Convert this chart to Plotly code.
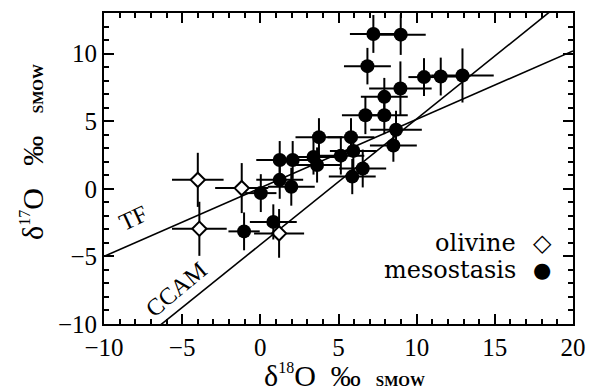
import plotly.graph_objects as go

# ---- data ----
oliv_x = [-4.0, -1.19, -3.9, 1.2]
oliv_y = [0.66, 0.05, -2.96, -3.3]
oliv_ex = [1.65, 1.7, 1.75, 1.6]
oliv_ey = [2.0, 1.85, 2.0, 1.8]

meso_x = [-1.04, 0.83, 0.03, 1.24, 1.98, 1.24, 2.07, 3.4, 3.63, 3.75, 5.15, 5.8, 5.95, 5.88,
          6.55, 6.72, 7.93, 7.93, 8.96, 6.85, 7.23, 8.98, 10.47, 11.54, 12.93, 8.68, 8.51]
meso_y = [-3.15, -2.45, -0.32, 0.66, 0.15, 2.13, 2.13, 2.35, 1.76, 3.82, 2.45, 3.82, 2.8, 0.9,
          1.5, 5.44, 5.44, 6.8, 7.42, 9.07, 11.45, 11.4, 8.26, 8.3, 8.38, 4.37, 3.2]
meso_ex = [1.0, 1.5, 1.0, 1.5, 1.5, 1.5, 1.5, 1.5, 1.5, 1.5, 1.5, 1.5, 1.5, 1.5,
           1.5, 1.5, 1.5, 1.5, 2.0, 1.5, 1.5, 1.6, 1.0, 1.0, 2.0, 1.65, 1.5]
meso_ey = [1.4, 1.3, 1.4, 1.4, 1.4, 1.4, 1.4, 1.3, 1.3, 1.4, 1.4, 1.4, 1.4, 1.3,
           1.4, 1.4, 1.4, 1.4, 2.0, 1.35, 1.4, 1.5, 1.4, 1.4, 2.0, 1.4, 1.2]

tf_x = [-10, 20]
tf_y = [-5.0, 10.2]
ccam_x = [-10, 20]
ccam_y = [-13.43, 14.47]

x_ticks = [-10, -5, 0, 5, 10, 15, 20]
y_ticks = [-10, -5, 0, 5, 10]

SERIF = "Liberation Serif"

fig = go.Figure()
fig.add_trace(go.Scatter(x=tf_x, y=tf_y, mode="lines", line=dict(color="black", width=1.6),
                         showlegend=False, hoverinfo="skip"))
fig.add_trace(go.Scatter(x=ccam_x, y=ccam_y, mode="lines", line=dict(color="black", width=1.6),
                         showlegend=False, hoverinfo="skip"))
fig.add_trace(go.Scatter(
    x=oliv_x, y=oliv_y, mode="markers", name="olivine",
    marker=dict(symbol="diamond", size=11, color="white", line=dict(color="black", width=2)),
    error_x=dict(type="data", array=oliv_ex, color="black", thickness=2, width=0),
    error_y=dict(type="data", array=oliv_ey, color="black", thickness=2, width=0),
    showlegend=False))
fig.add_trace(go.Scatter(
    x=meso_x, y=meso_y, mode="markers", name="mesostasis",
    marker=dict(symbol="circle", size=14, color="black", line=dict(color="black", width=0)),
    error_x=dict(type="data", array=meso_ex, color="black", thickness=2, width=0),
    error_y=dict(type="data", array=meso_ey, color="black", thickness=2, width=0),
    showlegend=False))

axis_common = dict(
    showgrid=False, zeroline=False, showline=True, linecolor="black", linewidth=2,
    mirror="allticks", ticks="inside", ticklen=10, tickwidth=2, tickcolor="black",
    tickfont=dict(family=SERIF, size=25, color="black"), automargin=False,
)
fig.update_xaxes(range=[-10, 20], tickvals=x_ticks, ticktext=[str(v).replace("-", "\u2212") for v in x_ticks],
                 minor=dict(ticks="inside", dtick=1, ticklen=5, tickwidth=1.5, tickcolor="black"),
                 **axis_common)
fig.update_yaxes(range=[-10, 13], tickvals=y_ticks, ticktext=[str(v).replace("-", "\u2212") for v in y_ticks],
                 minor=dict(ticks="inside", dtick=1, ticklen=5, tickwidth=1.5, tickcolor="black"),
                 **axis_common)

W, H = 593, 391
L, R, T, B = 104, 20, 13, 67
pw, ph = W - L - R, H - T - B


def px(x):
    return (x - L) / pw


def py(y):
    return (H - B - y) / ph


annots = [
    dict(text="TF", x=-8.14, y=-2.13, xref="x", yref="y", textangle=-25,
         font=dict(family=SERIF, size=24, color="black"), showarrow=False),
    dict(text="CCAM", x=-5.35, y=-7.43, xref="x", yref="y", textangle=-40,
         font=dict(family=SERIF, size=24, color="black"), showarrow=False),
    dict(text="olivine", x=px(518), y=py(243), xref="paper", yref="paper", xanchor="right",
         yanchor="middle", font=dict(family="DejaVu Serif", size=24, color="black"), showarrow=False),
    dict(text="mesostasis", x=px(518), y=py(270), xref="paper", yref="paper", xanchor="right",
         yanchor="middle", font=dict(family="DejaVu Serif", size=24, color="black"), showarrow=False),
    dict(text="\u25c7", x=px(542), y=py(243), xref="paper", yref="paper", xanchor="center",
         yanchor="middle", font=dict(family="DejaVu Sans", size=24, color="black"), showarrow=False),
    dict(text="\u25cf", x=px(542), y=py(270), xref="paper", yref="paper", xanchor="center",
         yanchor="middle", font=dict(family="DejaVu Sans", size=21, color="black"), showarrow=False),
    dict(text="\u03b4<sup><span style='font-size:16px'>18</span></sup>O  \u2030  <b><span style='font-size:15px'>SMOW</span></b>",
         x=px(344), y=py(375), xref="paper", yref="paper", xanchor="center", yanchor="middle",
         font=dict(family=SERIF, size=30, color="black"), showarrow=False),
    dict(text="\u03b4<sup><span style='font-size:16px'>17</span></sup>O   \u2030   <b><span style='font-size:15px'>SMOW</span></b>",
         x=px(32), y=py(152), xref="paper", yref="paper", xanchor="center", yanchor="middle",
         textangle=-90, font=dict(family=SERIF, size=30, color="black"), showarrow=False),
]

fig.update_layout(
    width=W, height=H, margin=dict(l=L, r=R, t=T, b=B, autoexpand=False),
    paper_bgcolor="white", plot_bgcolor="white",
    showlegend=False, annotations=annots,
)

fig.write_html("out.html", config={"displayModeBar": False},
               post_script="document.body.style.margin='0px';document.body.style.overflow='hidden';")
